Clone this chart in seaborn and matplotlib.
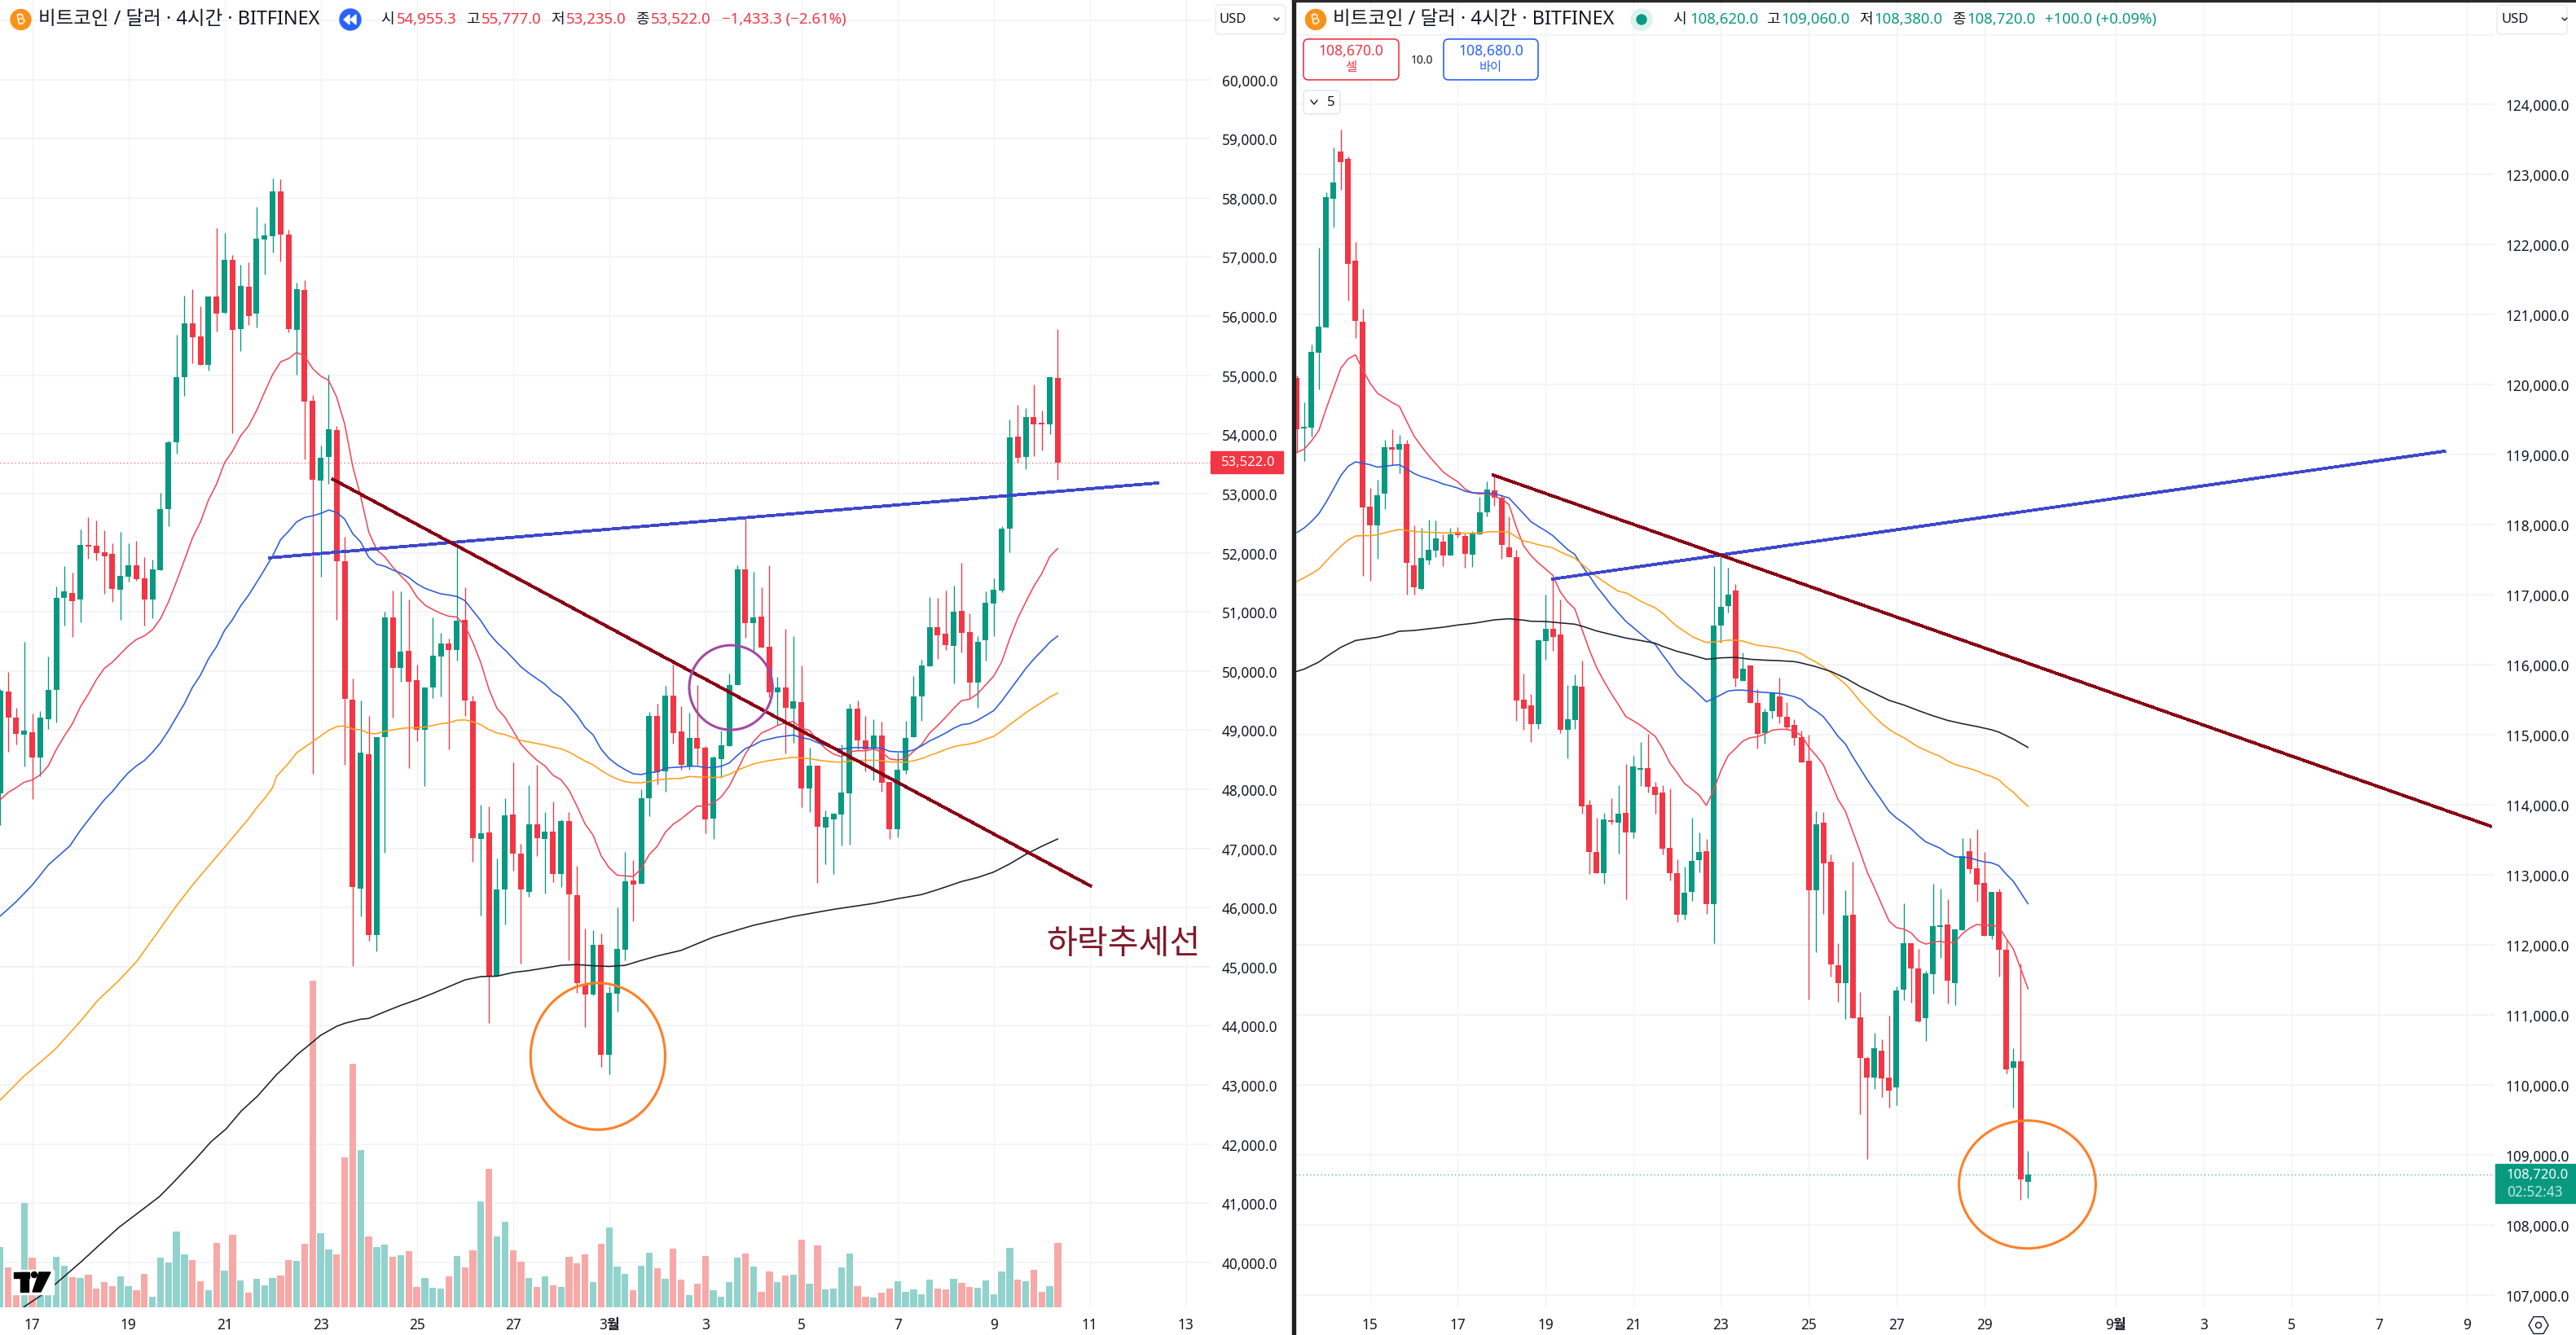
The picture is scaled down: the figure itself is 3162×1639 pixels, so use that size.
import numpy as np
import pandas as pd
import matplotlib
matplotlib.use("Agg")
import matplotlib.pyplot as plt
from matplotlib.patches import Ellipse, Rectangle, Circle, Polygon, FancyBboxPatch, RegularPolygon
from matplotlib.ticker import FuncFormatter
import seaborn as sns

W, H = 3162, 1640
RED = "#F23645"
GREEN = "#089981"

# left pane, 4h candles, index 0 = the "17" tick
left_open = [47937, 49655, 49215, 48917, 48967, 48532, 49178, 49687, 51235, 51317,
             51212, 52124, 52115, 52005, 51977, 51377, 51597, 51785, 51565, 51212,
             51707, 52738, 53866, 54970, 55876, 55659, 55181, 56331, 56052, 56946,
             55779, 56497, 56041, 57300, 57345, 58103, 57374, 55768, 56440, 54572,
             53217, 53615, 54076, 51850, 49514, 46327, 48591, 45530, 48888, 50906,
             50046, 50343, 49850, 49002, 49717, 50242, 50469, 50349, 50868, 49489,
             47155, 47269, 44840, 46301, 47572, 46915, 46263, 47408, 47155, 47288,
             46567, 47465, 46213, 44701, 44530, 45371, 43506, 44549, 45283, 46459,
             46409, 47845, 49242, 48300, 49584, 48977, 48381, 48867, 48702, 47509,
             48514, 48734, 49766, 51716, 50807, 50917, 50408, 49642, 49720, 49367,
             49473, 48018, 48399, 47358, 47496, 47574, 47936, 49362, 48826, 48688,
             48908, 48124, 47326, 48321, 48885, 49573, 50078, 50739, 50628, 50427,
             51014, 50656, 49803, 50518, 51138, 51358, 52403, 53962, 53624, 54291,
             54180, 54167, 54955.3]
left_close = [49668, 49206, 48931, 48995, 48532, 49215, 49682, 51235, 51345, 51185,
              52128, 52105, 51995, 51940, 51391, 51606, 51785, 51556, 51212, 51716,
              52744, 53871, 54970, 55876, 55648, 55181, 56331, 56047, 56946, 55768,
              56508, 56007, 57305, 57362, 58103, 57374, 55779, 56451, 54560, 53228,
              53610, 54093, 51855, 49533, 46352, 48622, 45530, 48888, 50906, 50046,
              50330, 49824, 49002, 49723, 50261, 50469, 50349, 50855, 49495, 47168,
              47256, 44840, 46308, 47560, 46908, 46308, 47408, 47174, 47288, 46567,
              47465, 46225, 44726, 44530, 45371, 43506, 44556, 45302, 46447, 46390,
              47851, 49242, 48294, 49584, 48945, 48408, 48867, 48688, 47496, 48537,
              48743, 49761, 51716, 50812, 50904, 50399, 49642, 49720, 49381, 49486,
              48018, 48399, 47372, 47532, 47587, 47945, 49362, 48826, 48674, 48908,
              48115, 47326, 48330, 48867, 49569, 50092, 50739, 50601, 50436, 51000,
              50642, 49803, 50491, 51151, 51372, 52404, 53948, 53610, 54291, 54167,
              54170, 54963, 53522]
left_high = [49700, 49984, 49380, 50493, 49284, 49325, 50245, 51427, 51771, 51661,
             52389, 52596, 52550, 52376, 52156, 52348, 52165, 52197, 51922, 51881,
             53006, 53900, 55682, 56343, 56451, 56166, 56331, 57482, 57402, 57032,
             56867, 56907, 57852, 57567, 58325, 58308, 57459, 56565, 56605, 54669,
             53814, 55010, 54145, 52266, 49875, 49502, 49242, 48888, 51007, 51355,
             51349, 51209, 50109, 49723, 50906, 50646, 50545, 52190, 51418, 49578,
             47737, 47712, 46833, 47851, 48457, 47079, 48072, 48414, 47617, 47795,
             47491, 47617, 46706, 45644, 45618, 45567, 44663, 46004, 46940, 46801,
             48002, 49312, 49445, 49749, 50103, 49407, 49294, 49761, 48725, 48560,
             48991, 49954, 51784, 52560, 51674, 51413, 51784, 49899, 50720, 50587,
             50092, 48702, 48399, 47642, 47601, 48757, 49445, 49500, 49239, 49184,
             49142, 48124, 48619, 49156, 49913, 50188, 51248, 51234, 51358, 51440,
             51826, 50973, 50587, 51344, 51564, 52445, 54250, 54496, 54442, 54839,
             54400, 54963, 55777]
left_low = [47400, 48638, 48761, 48381, 47832, 48221, 49013, 49123, 50772, 50580,
            50827, 51901, 51872, 51308, 51171, 50869, 51514, 51528, 50772, 50896,
            51700, 52448, 53672, 54657, 55209, 55181, 55073, 55745, 56047, 54014,
            55403, 55847, 55807, 56702, 57072, 56918, 55728, 55010, 53575, 48268,
            51589, 53160, 50861, 48414, 45011, 45846, 45435, 45264, 46921, 49211,
            49812, 48363, 48819, 48060, 49540, 49565, 48679, 50172, 49236, 46769,
            45871, 44043, 44840, 45719, 46624, 45049, 46181, 46871, 46238, 46428,
            46346, 45106, 44562, 43974, 44511, 43310, 43184, 44246, 45106, 45770,
            46409, 47541, 48079, 47965, 48768, 48332, 48335, 48413, 47262, 47165,
            48197, 48725, 49766, 50564, 50344, 50399, 49560, 49092, 48610, 48789,
            47702, 47620, 46422, 46739, 46574, 47055, 47069, 48679, 48307, 48156,
            47954, 47165, 47184, 48266, 48885, 49161, 50078, 50202, 50353, 49794,
            50312, 49541, 49376, 50174, 50587, 51330, 52005, 53528, 53418, 53633,
            53729, 54003, 53235]
left_vol = [222, 147, 81, 384, 183, 88, 103, 186, 153, 111, 108, 120, 69, 93, 78, 114, 78, 63, 123, 39,
            183, 165, 279, 195, 174, 96, 63, 237, 135, 267, 99, 54, 105, 81, 108, 117, 174, 171, 234, 1203,
            273, 213, 195, 552, 897, 579, 261, 222, 231, 186, 192, 207, 75, 108, 72, 69, 114, 189, 147, 210,
            390, 510, 261, 315, 210, 168, 108, 75, 114, 81, 75, 186, 162, 195, 93, 234, 294, 150, 123, 63,
            153, 201, 144, 105, 216, 102, 45, 87, 189, 63, 39, 93, 183, 198, 150, 57, 132, 93, 117, 120,
            249, 87, 228, 66, 69, 147, 198, 78, 39, 36, 54, 69, 96, 57, 66, 48, 102, 69, 66, 105,
            90, 75, 72, 99, 48, 132, 219, 102, 96, 138, 57, 78, 237]

left_red_ma = [47822, 47946, 48028, 48120, 48157, 48244, 48395, 48670, 48899, 49105,
               49389, 49609, 49852, 50044, 50149, 50287, 50424, 50534, 50594, 50695,
               50882, 51166, 51510, 51876, 52250, 52521, 52892, 53159, 53518, 53717,
               53974, 54145, 54401, 54714, 55010, 55227, 55283, 55386, 55323, 55113,
               54987, 54913, 54629, 54173, 53461, 52949, 52350, 52050, 51930, 51756,
               51609, 51470, 51254, 51115, 51039, 50975, 50925, 50912, 50767, 50482,
               50134, 49691, 49369, 49217, 48996, 48762, 48616, 48490, 48395, 48237,
               48161, 47984, 47712, 47414, 47225, 46877, 46674, 46548, 46535, 46523,
               46655, 46896, 47035, 47270, 47410, 47500, 47610, 47716, 47716, 47771,
               47872, 48055, 48321, 48596, 48803, 48950, 49009, 49078, 49124, 49147,
               49032, 48995, 48826, 48688, 48596, 48550, 48633, 48651, 48651, 48679,
               48633, 48514, 48495, 48514, 48642, 48757, 48950, 49078, 49216, 49367,
               49500, 49523, 49615, 49766, 49913, 50156, 50546, 50890, 51165, 51431,
               51647, 51936, 52073]
left_blue_x = [-4, -2, 0, 2, 4.7] + list(range(6, 129))
left_blue_ma = [45855, 46100, 46380, 46720, 47043,
                47304, 47478, 47653, 47822, 47960, 48129, 48280, 48395, 48487, 48624,
                48784, 48991, 49220, 49449, 49724, 49930, 50205, 50411, 50685, 50869,
                51098, 51281, 51496, 51716, 51945, 52220, 52362, 52521, 52595, 52624,
                52664, 52721, 52681, 52567, 52322, 52180, 51923, 51804, 51770, 51707,
                51656, 51582, 51475, 51399, 51349, 51304, 51285, 51260, 51190, 51020,
                50849, 50640, 50482, 50355, 50216, 50071, 49963, 49868, 49774, 49641,
                49552, 49407, 49249, 49046, 48920, 48679, 48521, 48414, 48332, 48262,
                48249, 48281, 48294, 48357, 48370, 48376, 48390, 48390, 48367, 48367,
                48390, 48445, 48573, 48688, 48743, 48817, 48849, 48881, 48899, 48918,
                48872, 48849, 48789, 48743, 48697, 48679, 48702, 48707, 48702, 48697,
                48697, 48642, 48633, 48633, 48665, 48734, 48817, 48881, 48950, 49032,
                49092, 49110, 49170, 49248, 49330, 49491, 49674, 49858, 50041, 50202,
                50340, 50486, 50592]
left_orange_x = [-4, -1.1, 2.8, 6.2, 8.1, 10.8, 13, 16, 18, 20, 22, 24.3, 26, 27, 28, 29, 30, 30.5, 31.9, 33] + list(range(35, 129))
left_orange_ma = [42745, 43140, 43595, 44105, 44420, 44765, 45083, 45650, 46030, 46380,
                  46700, 47066, 47341, 47501, 47685, 47845, 48028, 48218, 48426, 48616,
                  48806, 48901, 48996, 49059, 49072, 49015, 49008, 48945, 48939, 48983,
                  49002, 49027, 49040, 49040, 49053, 49078, 49110, 49122, 49167, 49173,
                  49141, 49091, 49008, 48951, 48926, 48875, 48825, 48800, 48774, 48749,
                  48711, 48686, 48629, 48553, 48477, 48414, 48319, 48237, 48174, 48129,
                  48110, 48110, 48129, 48155, 48174, 48180, 48186, 48216, 48207, 48207,
                  48197, 48207, 48252, 48321, 48376, 48427, 48459, 48486, 48505, 48523,
                  48541, 48528, 48518, 48495, 48477, 48463, 48459, 48477, 48486, 48491,
                  48491, 48486, 48463, 48459, 48459, 48482, 48518, 48573, 48619, 48674,
                  48720, 48748, 48766, 48798, 48849, 48895, 48986, 49092, 49192, 49294,
                  49385, 49468, 49560, 49628]
left_black_x = [-1.1, 1.82, 6.2, 8.15, 10.8, 13, 15.9, 17.6, 20.3, 22.3, 24.2, 26.1, 28.1, 30.5, 31.9, 33, 35, 36, 37, 38,
                39, 41, 42, 44, 46, 48, 50, 52, 54, 56, 58, 60, 62, 64, 66, 68, 70, 72, 74, 76,
                78, 80, 81, 85, 90, 95, 100, 105, 108, 111, 113, 116, 118, 120, 122, 124, 126, 128]
left_black_ma = [39242, 39508, 40023, 40266, 40592, 40817, 41116, 41350, 41736, 42039,
                 42259, 42562, 42810, 43176, 43354, 43506, 43727, 43841, 43917, 43993,
                 44043, 44113, 44126, 44239, 44347, 44442, 44549, 44663, 44777, 44834,
                 44840, 44903, 44935, 44979, 45024, 45036, 45017, 45005, 45024, 45106,
                 45182, 45245, 45277, 45500, 45700, 45850, 45970, 46070, 46150, 46220,
                 46303, 46441, 46509, 46601, 46739, 46899, 47037, 47161]

left_ticks = [0, 12, 24, 36, 48, 60, 72, 84, 96, 108, 120, 132, 144]
left_tick_labels = ["17", "19", "21", "23", "25", "27", "3월", "3", "5", "7", "9", "11", "13"]
left_prices = list(range(40000, 62000, 1000))

# hand drawn lines on the left pane
left_down_x = [37.4, 132.2]
left_down_y = [53250, 46358]
left_up_x = [29.5, 140.6]
left_up_y = [51912, 53180]

# right pane, index 0 = the "15" tick
right_open = [120098, 119380, 119383, 120462, 120822, 122658, 123329, 123222, 121773, 120902,
              118258, 117991, 118440, 119111, 119076, 119160, 117427, 117085, 117497, 117637,
              117761, 117567, 117897, 117843, 117579, 117862, 118174, 118494, 118391, 117680,
              117540, 115501, 115416, 115156, 116344, 116515, 116433, 115074, 115214, 115688,
              114006, 113331, 113024, 113785, 113746, 113882, 113606, 114503, 114523, 114255,
              114173, 113387, 113027, 112427, 112760, 113207, 113340, 112587, 116560, 116840,
              117067, 115773, 115987, 115460, 115027, 115340, 115547, 115253, 115140, 114973,
              114627, 112787, 113747, 113187, 111713, 111453, 112433, 110967, 110387, 110107,
              110493, 110107, 109967, 111367, 112027, 111660, 110960, 111580, 112260, 112293,
              111460, 112213, 113340, 113093, 112887, 112127, 112753, 111933, 110240, 110340,
              108620]
right_close = [119369, 119390, 120471, 120831, 122676, 122884, 123182, 121729, 120907, 118245,
               117991, 118427, 119111, 119076, 119160, 117454, 117107, 117528, 117645, 117808,
               117567, 117862, 117858, 117590, 117878, 118183, 118507, 118383, 117711, 117544,
               115493, 115377, 115156, 116352, 116515, 116402, 115074, 115222, 115699, 113979,
               113327, 113024, 113789, 113758, 113870, 113606, 114546, 114510, 114259, 114142,
               113373, 113027, 112427, 112747, 113200, 113327, 112587, 116567, 116833, 117007,
               115807, 115940, 115460, 115013, 115333, 115600, 115260, 115107, 114960, 114607,
               112787, 113720, 113160, 111720, 111453, 112420, 110953, 110380, 110107, 110527,
               110093, 109920, 111353, 112027, 111660, 110907, 111593, 112267, 112267, 111487,
               112227, 113267, 113087, 112867, 112127, 112753, 111927, 110220, 110340, 108647,
               108720]
right_high = [120130, 119747, 120569, 121956, 122747, 123387, 123640, 123258, 122045, 121085,
              118529, 118640, 119218, 119369, 119285, 119218, 117991, 117952, 118076, 118067,
              117867, 117960, 117965, 117880, 117909, 118405, 118622, 118711, 118432, 118116,
              117641, 115874, 115583, 116359, 117004, 117221, 116930, 115711, 115862, 116056,
              114076, 113812, 113882, 114092, 114278, 114581, 114705, 114895, 115020, 114333,
              114280, 114240, 113227, 113113, 113813, 113607, 113513, 117413, 117560, 117393,
              117160, 116173, 115993, 115660, 115373, 115613, 115813, 115473, 115227, 115060,
              115007, 113907, 113893, 113293, 112027, 112780, 113187, 111327, 110407, 110747,
              110647, 110993, 111413, 112593, 112027, 111947, 111627, 112873, 112807, 112653,
              112240, 113520, 113520, 113653, 113327, 112753, 112800, 112067, 110527, 111740,
              109060]
right_low = [119022, 118907, 119258, 119929, 120822, 122253, 122782, 121205, 120671, 117272,
             117202, 117512, 118223, 118858, 118734, 117008, 117008, 117074, 117439, 117544,
             117415, 117567, 117812, 117392, 117404, 117862, 118116, 118267, 117520, 117544,
             115202, 115074, 114899, 115086, 116076, 116204, 115027, 114666, 115086, 113874,
             113012, 113024, 112872, 113719, 113303, 112651, 113525, 114270, 114173, 113880,
             113293, 112926, 112327, 112360, 112627, 113040, 112440, 112027, 116320, 116747,
             115693, 115773, 115460, 114807, 114880, 115240, 115160, 115073, 114853, 114607,
             111227, 111893, 112440, 111547, 111193, 110940, 110953, 109580, 108940, 109940,
             109827, 109673, 109713, 111207, 111180, 110893, 110627, 111300, 111813, 111167,
             111140, 112213, 113020, 112613, 112127, 112080, 111547, 110160, 109673, 108360,
             108380]

right_red_ma = [119036, 119080, 119200, 119347, 119658, 119947, 120236, 120369, 120427, 120214,
                120023, 119880, 119814, 119747, 119694, 119480, 119271, 119125, 118991, 118871,
                118756, 118680, 118614, 118511, 118458, 118440, 118449, 118405, 118369, 118289,
                117969, 117702, 117560, 117458, 117369, 117280, 117047, 116903, 116802, 116503,
                116212, 115959, 115765, 115590, 115427, 115260, 115202, 115136, 115059, 114980,
                114810, 114600, 114460, 114307, 114227, 114140, 113993, 114213, 114493, 114707,
                114807, 114913, 114960, 114973, 115013, 115067, 115080, 115080, 115053, 114993,
                114827, 114707, 114573, 114327, 114080, 113913, 113627, 113340, 113040, 112813,
                112573, 112340, 112247, 112227, 112173, 112060, 112013, 112040, 112053, 112027,
                112040, 112160, 112240, 112293, 112280, 112280, 112260, 112093, 111940, 111660,
                111373]
right_blue_ma = [117889, 117956, 118049, 118160, 118325, 118511, 118703, 118836, 118898, 118880,
                 118858, 118823, 118836, 118849, 118858, 118800, 118734, 118689, 118658, 118623,
                 118583, 118556, 118525, 118480, 118458, 118454, 118454, 118445, 118414, 118383,
                 118271, 118160, 118045, 117978, 117916, 117845, 117747, 117649, 117578, 117414,
                 117271, 117116, 116988, 116852, 116736, 116620, 116534, 116445, 116359, 116293,
                 116147, 116007, 115860, 115760, 115673, 115573, 115473, 115520, 115573, 115627,
                 115640, 115640, 115627, 115613, 115607, 115600, 115593, 115573, 115547, 115507,
                 115407, 115340, 115260, 115127, 114980, 114873, 114693, 114527, 114360, 114207,
                 114060, 113907, 113813, 113740, 113660, 113560, 113473, 113427, 113380, 113307,
                 113260, 113253, 113247, 113213, 113187, 113173, 113133, 113013, 112907, 112747,
                 112587]
right_orange_ma = [117192, 117245, 117303, 117369, 117480, 117592, 117694, 117783, 117840, 117845,
                   117845, 117858, 117885, 117912, 117934, 117921, 117907, 117898, 117894, 117889,
                   117885, 117885, 117885, 117880, 117880, 117885, 117898, 117903, 117903, 117894,
                   117827, 117769, 117747, 117716, 117694, 117672, 117614, 117569, 117525, 117436,
                   117347, 117258, 117187, 117116, 117049, 117030, 116970, 116911, 116860, 116815,
                   116740, 116640, 116547, 116480, 116407, 116360, 116320, 116327, 116340, 116353,
                   116353, 116340, 116307, 116280, 116267, 116253, 116240, 116213, 116193, 116160,
                   116093, 116040, 115973, 115893, 115813, 115727, 115613, 115480, 115373, 115260,
                   115160, 115080, 115013, 114960, 114893, 114827, 114780, 114733, 114693, 114627,
                   114580, 114547, 114520, 114487, 114440, 114407, 114360, 114260, 114180, 114073,
                   113980]
right_black_x = [-10.2, -9, -7, -6, -4, -2, 0, 1, 3, 4, 6, 8, 10, 12, 14, 15, 17, 19, 21, 22,
                 24, 26, 28, 29, 31, 33, 35, 37, 39, 40, 42, 44, 46, 48, 50, 52, 54, 56, 58, 59,
                 61, 63, 65, 67, 69, 71, 73, 75, 77, 79, 81, 83, 85, 86, 88, 90]
right_black_ma = [115901, 115940, 116041, 116115, 116251, 116348, 116379, 116394, 116445, 116480,
                  116491, 116515, 116538, 116569, 116592, 116608, 116643, 116658, 116639, 116623,
                  116619, 116600, 116581, 116553, 116484, 116433, 116383, 116348, 116309, 116265,
                  116193, 116140, 116080, 116100, 116107, 116080, 116067, 116060, 116047, 116027,
                  115973, 115907, 115813, 115693, 115593, 115493, 115427, 115347, 115273, 115207,
                  115160, 115120, 115073, 115040, 114940, 114820]

right_ticks = [0, 12, 24, 36, 48, 60, 72, 84, 102, 114, 126, 138, 150]
right_tick_labels = ["15", "17", "19", "21", "23", "25", "27", "29", "9월", "3", "5", "7", "9"]
right_prices = list(range(107000, 126000, 1000))

right_down_x = [16.7, 153.4]
right_down_y = [118716, 113692]
right_up_x = [24.8, 147.1]
right_up_y = [117223, 119053]

sns.set_theme(style="white")
plt.rcParams["font.family"] = ["Noto Sans", "Noto Sans CJK KR", "DejaVu Sans"]
plt.rcParams["axes.unicode_minus"] = False

fig = plt.figure(figsize=(W / 100, H / 100), dpi=100, facecolor="white")


def pane(x0, x1, y0, y1, zorder):
    return fig.add_axes([x0 / W, 1 - y1 / H, (x1 - x0) / W, (y1 - y0) / H], zorder=zorder)


def setup_base(ax, xlim, ylim, prices, ticks, labels, top_hidden):
    ax.set_xlim(*xlim)
    ax.set_ylim(*ylim)
    ax.set_xticks(ticks)
    ax.set_xticklabels(labels, fontsize=12.4, color="#131722")
    ax.set_yticks(prices)
    ax.yaxis.tick_right()
    ax.yaxis.set_major_formatter(FuncFormatter(lambda v, p: "" if v == top_hidden else f"{v:,.1f}"))
    ax.tick_params(axis="y", length=0, pad=10, labelsize=12.4, labelcolor="#131722")
    ax.tick_params(axis="x", length=0, pad=9)
    ax.grid(True, axis="y", color="#f0f1f3", linewidth=1.1)
    ax.grid(True, axis="x", color="#f0f1f3", linewidth=0.8)
    ax.set_axisbelow(True)
    for s in ax.spines.values():
        s.set_visible(False)
    for t in ax.get_xticklabels():
        if "월" in t.get_text():
            t.set_fontweight("bold")


def candles(ax, o, h, l, c, start, width, min_body):
    o, h, l, c = map(np.array, (o, h, l, c))
    x = np.arange(start, start + len(o))
    colors = np.where(c >= o, GREEN, RED)
    ax.vlines(x, l, h, colors=colors, linewidth=0.95, zorder=3)
    ax.bar(x, np.maximum(np.abs(c - o), min_body), bottom=np.minimum(o, c), width=width,
           color=colors, linewidth=0, zorder=4)


def ma(ax, x, y, color, lw=1.15):
    sns.lineplot(x=x, y=y, ax=ax, color=color, linewidth=lw, estimator=None, sort=False, zorder=5)


def hand_line(ax, x, y, color):
    line = sns.lineplot(x=x, y=y, ax=ax, color=color, linewidth=2.0, estimator=None, sort=False, zorder=7)
    line.lines[-1].set_antialiased(False)
    line.lines[-1].set_solid_capstyle("butt")


def top_layer(ax, xlim, ylim):
    ax.set_xlim(*xlim)
    ax.set_ylim(*ylim)
    ax.set_xlabel("")
    ax.set_ylabel("")
    ax.patch.set_alpha(0)
    ax.axis("off")


# left pane
left_xlim = (-4.02, 147.07)
left_ylim = (39242, 61358)
base_l = pane(0, 1486, 0, 1606, 1)
setup_base(base_l, left_xlim, left_ylim, left_prices, left_ticks, left_tick_labels, 61000)

vax = pane(0, 1486, 0, 1606, 2)
vol_frame = pd.DataFrame({
    "x": np.arange(-4, 129),
    "vol": left_vol,
    "up": np.array(left_close) >= np.array(left_open),
})
sns.barplot(data=vol_frame, x="x", y="vol", hue="up", palette={True: "#92D2CC", False: "#F7A9A7"},
            native_scale=True, dodge=False, width=0.84, saturation=1, legend=False, ax=vax, linewidth=0)
top_layer(vax, left_xlim, (0, 4818))

ax_l = pane(0, 1486, 0, 1606, 3)
ax_l.axhline(53522, color=RED, linewidth=0.8, linestyle=(0, (1, 3)), zorder=2)
candles(ax_l, left_open, left_high, left_low, left_close, -4, 0.71, 25)
ma(ax_l, list(range(-4, 129)), left_red_ma, "#F2495A")
ma(ax_l, left_blue_x, left_blue_ma, "#2B5BD7")
ma(ax_l, left_orange_x, left_orange_ma, "#FF9F1A")
ma(ax_l, left_black_x, left_black_ma, "#1E222D")
hand_line(ax_l, left_up_x, left_up_y, "#3F48CC")
hand_line(ax_l, left_down_x, left_down_y, "#880015")
ax_l.add_patch(Ellipse((87.2, 49720), 10.4, 1430, fill=False, edgecolor="#A349A4", linewidth=2.2, zorder=8))
ax_l.add_patch(Ellipse((70.6, 43485), 16.8, 2480, fill=False, edgecolor="#FF7F27", linewidth=2.2, zorder=8))
top_layer(ax_l, left_xlim, left_ylim)

# right pane
right_xlim = (-10.22, 153.8)
right_ylim = (106826, 125506)
base_r = pane(1590, 3062, 0, 1606, 1)
setup_base(base_r, right_xlim, right_ylim, right_prices, right_ticks, right_tick_labels, 125000)

ax_r = pane(1590, 3062, 0, 1606, 3)
ax_r.axhline(108720, color=GREEN, linewidth=0.8, linestyle=(0, (1, 3)), zorder=2)
candles(ax_r, right_open, right_high, right_low, right_close, -10, 0.78, 25)
ma(ax_r, list(range(-10, 91)), right_red_ma, "#F2495A")
ma(ax_r, list(range(-10, 91)), right_blue_ma, "#2B5BD7")
ma(ax_r, list(range(-10, 91)), right_orange_ma, "#FF9F1A")
ma(ax_r, right_black_x, right_black_ma, "#1E222D")
hand_line(ax_r, right_up_x, right_up_y, "#3F48CC")
hand_line(ax_r, right_down_x, right_down_y, "#880015")
ax_r.add_patch(Ellipse((89.9, 108580), 18.7, 1826, fill=False, edgecolor="#FF7F27", linewidth=2.2, zorder=8))
top_layer(ax_r, right_xlim, right_ylim)

# page furniture in pixel coordinates
ov = fig.add_axes([0, 0, 1, 1], zorder=10)
ov.set_xlim(0, W)
ov.set_ylim(H, 0)
ov.axis("off")
ov.patch.set_alpha(0)

DARK = "#131722"


def txt(x, y, s, size=13.5, color=DARK, ha="left", weight="normal", **kw):
    ov.text(x, y, s, fontsize=size, color=color, ha=ha, va="center", fontweight=weight, **kw)


def header(x_off, x_scale, vals, val_color, delta):
    # x positions come from the zoomed header row
    ov.add_patch(Circle((x_off + 25 * x_scale, 25), 12.5, color="#F7931A"))
    ov.text(x_off + 25 * x_scale, 25, "₿", color="white", fontsize=12, ha="center", va="center",
            family=["Roboto", "Open Sans", "Inter", "Noto Sans", "DejaVu Sans"], rotation=12)
    txt(x_off + 46 * x_scale, 24, "비트코인 / 달러 · 4시간 · BITFINEX", size=16.9)
    for name, val, (xn, xv) in zip("시고저종", vals, OHLC_POS):
        txt(x_off + xn * x_scale, 24, name, size=13)
        txt(x_off + xv * x_scale, 24, val, size=13.4, color=val_color)
    txt(x_off + OHLC_POS[-1][1] * x_scale + delta[0], 24, delta[1], size=13.4, color=val_color)


OHLC_POS = [(458, 477), (561, 579), (663, 681), (765, 783)]
header(0, 1 / 0.98, ["54,955.3", "55,777.0", "53,235.0", "53,522.0"], RED, (87, "−1,433.3 (−2.61%)"))
OHLC_POS = [(463, 484), (578, 596), (692, 710), (806, 824)]
header(1590, 1.0, ["108,620.0", "109,060.0", "108,380.0", "108,720.0"], GREEN, (96, "+100.0 (+0.09%)"))

# replay icon left, market dot right
ov.add_patch(Circle((430, 25), 13, color="#2962FF"))
ov.add_patch(Polygon([[429, 19], [429, 31], [422, 25]], color="white"))
ov.add_patch(Polygon([[437, 19], [437, 31], [430, 25]], color="white"))
ov.add_patch(Circle((2015, 25), 13, color="#DDF2EF"))
ov.add_patch(Circle((2015, 25), 6, color=GREEN))

# currency boxes
for bx, tx, cx in [(1492, 1497, 1567), (3065, 3070, 3148)]:
    ov.add_patch(FancyBboxPatch((bx, 7), 86, 36, boxstyle="round,pad=0,rounding_size=5",
                                fc="white", ec="#E9EAEE", lw=1))
    txt(tx, 24, "USD", size=12)
    ov.plot([cx - 3, cx, cx + 3], [23, 26, 23], color=DARK, lw=1)

# sell / buy buttons
ov.add_patch(FancyBboxPatch((1600, 49), 117, 50, boxstyle="round,pad=0,rounding_size=6", fc="white", ec=RED, lw=1.2))
ov.add_patch(FancyBboxPatch((1772, 49), 116, 50, boxstyle="round,pad=0,rounding_size=6", fc="white", ec="#2962FF", lw=1.2))
txt(1658, 63, "108,670.0", size=12.6, color=RED, ha="center", weight="bold")
txt(1658, 83, "셀", size=11, color=RED, ha="center")
txt(1830, 63, "108,680.0", size=12.6, color="#2962FF", ha="center", weight="bold")
txt(1830, 83, "바이", size=11, color="#2962FF", ha="center")
txt(1745, 74, "10.0", size=10, ha="center")
ov.add_patch(FancyBboxPatch((1600, 112), 45, 29, boxstyle="round,pad=0,rounding_size=5", fc="white", ec="#E0E3EB", lw=1))
ov.plot([1609, 1613, 1617], [124, 129, 124], color=DARK, lw=1)
txt(1629, 126, "5", size=12)

# last price badges
ov.add_patch(Rectangle((1486, 555), 89, 27, color=RED))
txt(1499, 568, "53,522.0", size=12, color="white", weight="bold")
ov.add_patch(Rectangle((3063, 1430), 99, 48, color=GREEN))
txt(3077, 1443, "108,720.0", size=12, color="white", weight="bold")
txt(3077, 1464, "02:52:43", size=12.4, color="#BFE5DF")

# annotation
txt(1379, 1160, "하락추세선", size=29.6, color="#80182A", ha="center", family=["Noto Sans CJK KR", "DejaVu Sans"])

# TV logo
ov.add_patch(Rectangle((14, 1560), 52, 30, color="white"))
ov.add_patch(Rectangle((17, 1563), 19, 7, color="black"))
ov.add_patch(Rectangle((25, 1563), 10, 24, color="black"))
ov.add_patch(Circle((42, 1566), 3.5, color="black"))
ov.add_patch(Polygon([[48, 1563], [62, 1563], [50, 1587], [40, 1587]], color="black"))

# settings hexagon
ov.add_patch(RegularPolygon((3116, 1628), 6, radius=12, orientation=np.pi / 6, fill=False, ec=DARK, lw=1))
ov.add_patch(Circle((3116, 1628), 3.5, fill=False, ec=DARK, lw=1))

# pane divider and top strip
ov.add_patch(Rectangle((1586, 0), 4, H, color="#1f1f1f"))
ov.add_patch(Rectangle((1586, 0), W - 1586, 3, color="#2a2a2a"))

fig.savefig("out.png", dpi=100)
